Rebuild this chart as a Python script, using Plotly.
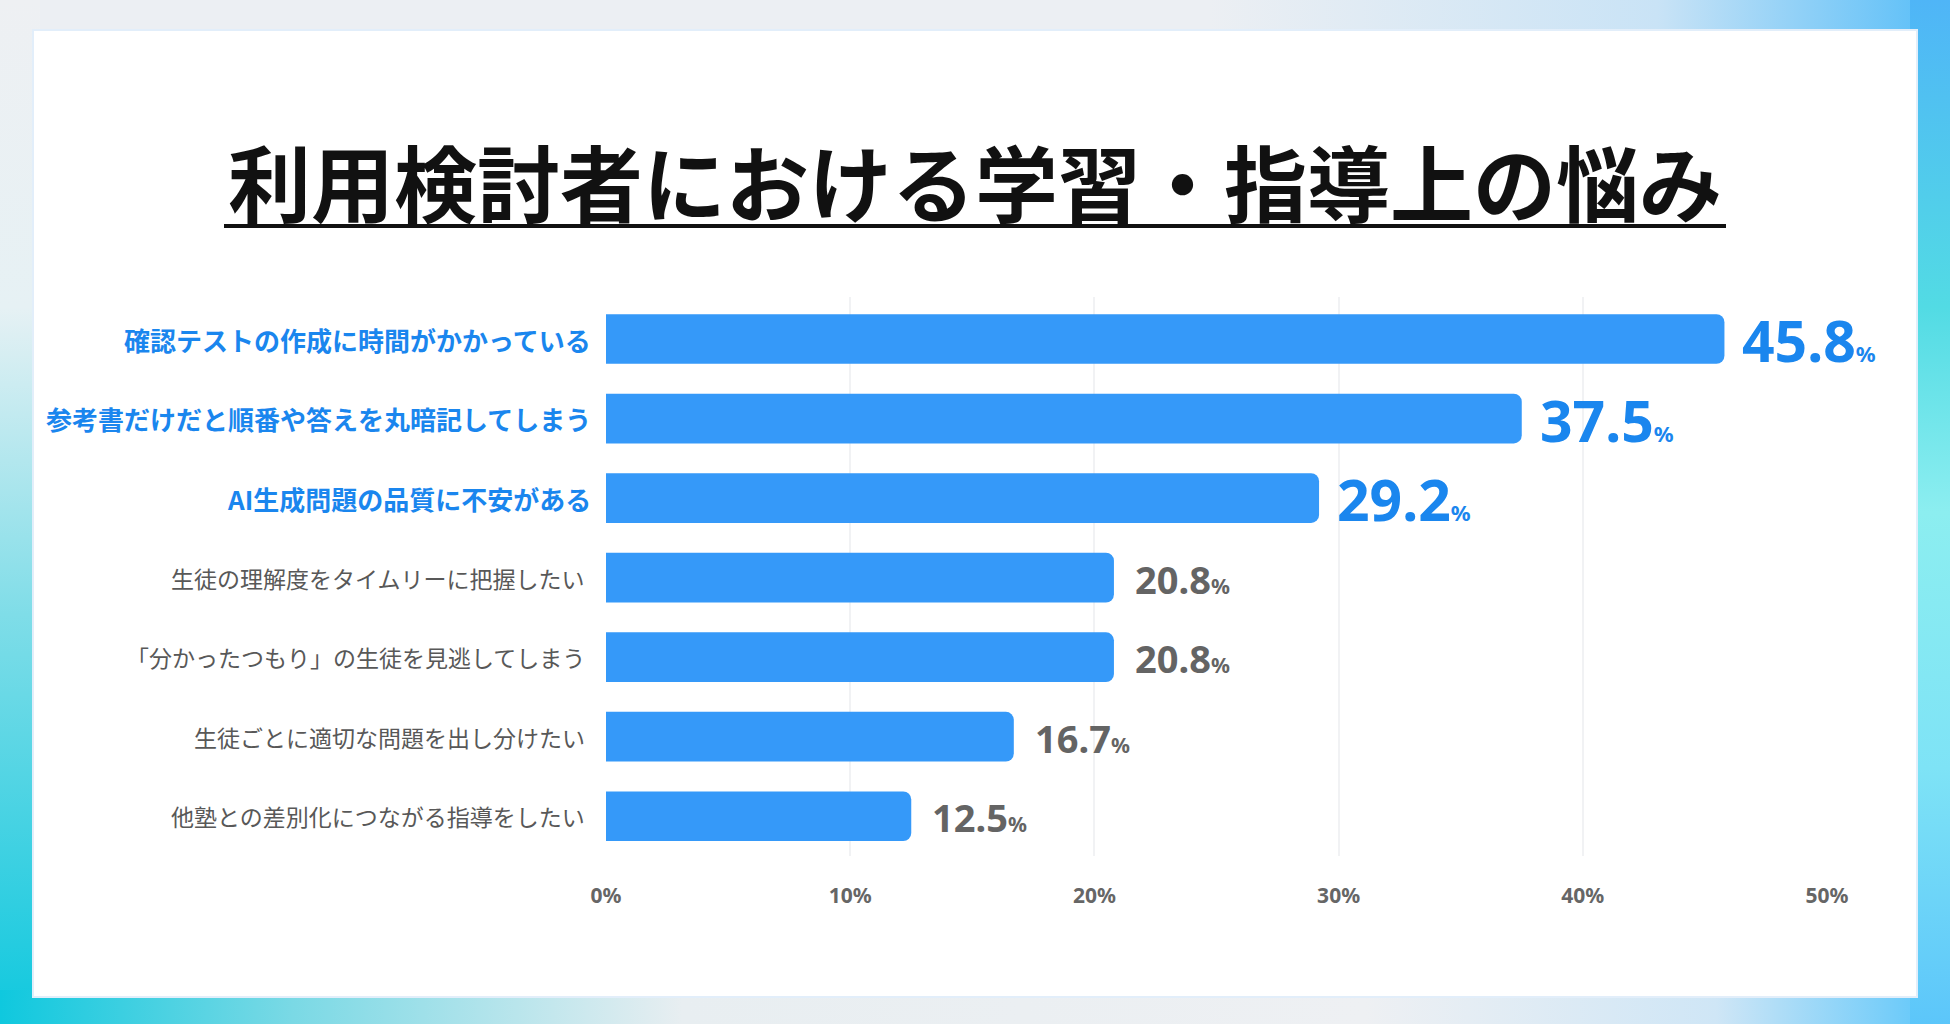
import base64
import plotly.graph_objects as go

# ---------------- data ----------------
categories = [
    "確認テストの作成に時間がかかっている",
    "参考書だけだと順番や答えを丸暗記してしまう",
    "AI生成問題の品質に不安がある",
    "生徒の理解度をタイムリーに把握したい",
    "「分かったつもり」の生徒を見逃してしまう",
    "生徒ごとに適切な問題を出し分けたい",
    "他塾との差別化につながる指導をしたい",
]
values = [45.8, 37.5, 29.2, 20.8, 20.8, 16.7, 12.5]
tick_vals = [0, 10, 20, 30, 40, 50]
tick_text = ["0%", "10%", "20%", "30%", "40%", "50%"]
title_text = "利用検討者における学習・指導上の悩み"
n_highlight = 3

# ---------------- layout geometry ----------------
W, H = 1950, 1024
ML, MR, MT, MB = 606, 123, 297, 168
PW, PH = W - ML - MR, H - MT - MB

def px_x(p):
    return (p - ML) / PW

def px_y(p):
    return (H - MB - p) / PH

BAR = "#3599F9"
BLUE = "#1A86EE"
GRAY = "#585858"
GRAY_VAL = "#646464"
FONT = "Noto Sans CJK JP, Noto Sans, sans-serif"

# background gradient (decorative frame) as inline SVG
svg = f"""<svg xmlns='http://www.w3.org/2000/svg' width='{W}' height='{H}' viewBox='0 0 {W} {H}'>
<defs>
<linearGradient id='top' x1='0' y1='0' x2='1' y2='0'>
<stop offset='0' stop-color='#eceff3'/><stop offset='0.62' stop-color='#eceff3'/>
<stop offset='0.85' stop-color='#c9e3f6'/><stop offset='1' stop-color='#55bdf8'/></linearGradient>
<linearGradient id='right' x1='0' y1='0' x2='0' y2='1'>
<stop offset='0' stop-color='#4fb5f7'/><stop offset='0.3' stop-color='#52dbe4'/>
<stop offset='0.5' stop-color='#8ceef0'/><stop offset='0.75' stop-color='#7ee3f6'/>
<stop offset='1' stop-color='#5cc6fa'/></linearGradient>
<linearGradient id='left' x1='0' y1='0' x2='0' y2='1'>
<stop offset='0' stop-color='#eef0f3'/><stop offset='0.3' stop-color='#e6f1f4'/>
<stop offset='0.6' stop-color='#7fdde8'/><stop offset='1' stop-color='#0fc8de'/></linearGradient>
<linearGradient id='bottom' x1='0' y1='0' x2='1' y2='0'>
<stop offset='0' stop-color='#0fc8de'/><stop offset='0.15' stop-color='#7ad9e5'/>
<stop offset='0.35' stop-color='#e8eef1'/><stop offset='0.7' stop-color='#eef0f3'/>
<stop offset='0.88' stop-color='#cfe6f6'/><stop offset='1' stop-color='#58c5fa'/></linearGradient>
</defs>
<rect x='0' y='0' width='{W}' height='{H}' fill='#eef0f3'/>
<rect x='0' y='0' width='{W}' height='34' fill='url(#top)'/>
<rect x='0' y='0' width='40' height='{H}' fill='url(#left)'/>
<rect x='0' y='990' width='{W}' height='34' fill='url(#bottom)'/>
<rect x='1910' y='0' width='40' height='{H}' fill='url(#right)'/>
</svg>"""
svg_uri = "data:image/svg+xml;base64," + base64.b64encode(svg.encode("utf-8")).decode("ascii")

fig = go.Figure()
fig.add_trace(go.Bar(
    x=values,
    y=categories,
    orientation="h",
    marker=dict(color=BAR, line=dict(width=0)),
    hoverinfo="skip",
))

annotations = []
for i, (cat, v) in enumerate(zip(categories, values)):
    hi = i < n_highlight
    # category label
    annotations.append(dict(
        x=0, xref="paper", y=cat, yref="y",
        xanchor="right", yanchor="middle", xshift=-13 if hi else -19,
        text=cat, showarrow=False,
        font=dict(family=FONT, size=26 if hi else 23,
                  color=BLUE if hi else GRAY,
                  weight="bold" if hi else "normal"),
    ))
    # value label
    big = 57 if hi else 38
    small = 22 if hi else 21
    annotations.append(dict(
        x=v, xref="x", y=cat, yref="y",
        xanchor="left", yanchor="middle", xshift=16 if hi else 19,
        yshift=-1,
        text=f"{v:.1f}<span style='font-size:{small}px'>%</span>",
        showarrow=False,
        font=dict(family="Noto Sans, sans-serif", size=big,
                  color=BLUE if hi else GRAY_VAL, weight="bold"),
    ))

fig.update_layout(
    width=W, height=H,
    margin=dict(l=ML, r=MR, t=MT, b=MB, pad=0),
    paper_bgcolor="#eef0f3",
    plot_bgcolor="rgba(0,0,0,0)",
    showlegend=False,
    bargap=0.375,
    barcornerradius=8,
    title=dict(
        text=title_text,
        x=0.5, xref="container", xanchor="center",
        y=1 - 187 / H, yref="container", yanchor="middle",
        font=dict(family=FONT, size=83, color="#111111", weight="bold"),
    ),
    xaxis=dict(
        range=[0, 50],
        tickvals=tick_vals, ticktext=tick_text,
        showgrid=True, gridcolor="#f1f2f4", gridwidth=2,
        zeroline=False, showline=False,
        ticks="", ticklabelstandoff=25,
        tickfont=dict(family="Noto Sans, sans-serif", size=21, color="#666666", weight="bold"),
        fixedrange=True,
    ),
    yaxis=dict(
        autorange="reversed",
        showticklabels=False, showgrid=False, zeroline=False, showline=False,
        fixedrange=True,
    ),
    annotations=annotations,
    images=[dict(
        source=svg_uri, xref="paper", yref="paper",
        x=px_x(0), y=px_y(0), sizex=W / PW, sizey=H / PH,
        xanchor="left", yanchor="top", sizing="stretch", layer="below",
    )],
    shapes=[
        dict(type="rect", xref="paper", yref="paper",
             x0=px_x(33), x1=px_x(1917), y0=px_y(30), y1=px_y(997),
             fillcolor="white", line=dict(color="#e2eefa", width=2), layer="below"),
        dict(type="line", xref="paper", yref="paper",
             x0=px_x(224), x1=px_x(1726), y0=px_y(226), y1=px_y(226),
             line=dict(color="#111111", width=4)),
    ],
)

fig.write_html(
    "out.html",
    config={"displayModeBar": False},
    post_script="document.body.style.margin='0';document.body.style.overflow='hidden';",
)
